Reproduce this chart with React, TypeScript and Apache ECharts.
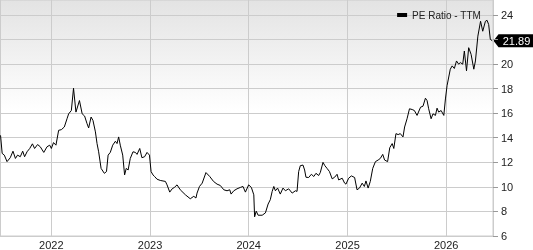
import React, { useEffect, useRef } from "react";
import * as echarts from "echarts";

const dates: string[] = [
  "2021-06-27","2021-07-03","2021-07-11","2021-07-21","2021-08-02","2021-08-12","2021-08-21","2021-08-29",
  "2021-09-08","2021-09-17","2021-09-24","2021-10-03","2021-10-13","2021-10-23","2021-10-31","2021-11-11",
  "2021-11-21","2021-12-04","2021-12-16","2021-12-26","2022-01-01","2022-01-09","2022-01-18","2022-01-28",
  "2022-02-07","2022-02-18","2022-02-28","2022-03-06","2022-03-16","2022-03-24","2022-04-02","2022-04-15",
  "2022-04-25","2022-05-04","2022-05-13","2022-05-19","2022-05-28","2022-06-04","2022-06-13","2022-06-19",
  "2022-06-25","2022-07-04","2022-07-16","2022-07-24","2022-07-30","2022-08-07","2022-08-16","2022-08-26",
  "2022-09-01","2022-09-07","2022-09-13","2022-09-22","2022-09-29","2022-10-05","2022-10-12","2022-10-20",
  "2022-10-30","2022-11-08","2022-11-14","2022-11-24","2022-12-02","2022-12-12","2022-12-21","2022-12-30",
  "2023-01-05","2023-01-12","2023-01-18","2023-01-27","2023-02-08","2023-02-27","2023-03-05","2023-03-15",
  "2023-03-24","2023-04-01","2023-04-11","2023-04-23","2023-05-12","2023-05-30","2023-06-12","2023-06-20",
  "2023-06-24","2023-07-03","2023-07-13","2023-07-27","2023-08-10","2023-08-24","2023-09-06","2023-09-18",
  "2023-10-01","2023-10-13","2023-10-23","2023-10-28","2023-11-07","2023-11-19","2023-12-01","2023-12-11",
  "2023-12-20","2024-01-01","2024-01-11","2024-01-20","2024-01-23","2024-01-29","2024-02-05","2024-02-20",
  "2024-03-03","2024-03-13","2024-03-21","2024-03-28","2024-04-03","2024-04-09","2024-04-17","2024-04-27",
  "2024-05-07","2024-05-16","2024-05-28","2024-06-10","2024-06-22","2024-06-28","2024-07-04","2024-07-10",
  "2024-07-20","2024-07-26","2024-07-31","2024-08-10","2024-08-20","2024-08-29","2024-09-06","2024-09-16",
  "2024-09-22","2024-10-02","2024-10-09","2024-10-17","2024-10-26","2024-11-05","2024-11-14","2024-11-23",
  "2024-11-29","2024-12-12","2024-12-21","2024-12-26","2025-01-05","2025-01-15","2025-01-27","2025-02-05",
  "2025-02-14","2025-02-24","2025-03-04","2025-03-10","2025-03-18","2025-03-26","2025-04-04","2025-04-14",
  "2025-04-24","2025-05-02","2025-05-11","2025-05-18","2025-05-29","2025-06-06","2025-06-15","2025-06-21",
  "2025-06-29","2025-07-07","2025-07-15","2025-07-25","2025-07-31","2025-08-09","2025-08-18","2025-08-28",
  "2025-09-05","2025-09-15","2025-09-28","2025-10-07","2025-10-16","2025-10-22","2025-10-28","2025-11-06",
  "2025-11-13","2025-11-22","2025-11-28","2025-12-04","2025-12-13","2025-12-23","2025-12-29","2026-01-04",
  "2026-01-16","2026-01-23","2026-01-31","2026-02-08","2026-02-16","2026-02-22","2026-03-03","2026-03-09",
  "2026-03-17","2026-03-25","2026-04-03","2026-04-13","2026-04-19","2026-04-28","2026-05-08","2026-05-16",
  "2026-05-26","2026-06-01","2026-06-07","2026-06-13","2026-06-20"
];

const peValues: number[] = [
  14.19,12.72,12.58,12.05,12.37,12.9,12.31,12.58,
  12.45,12.9,12.45,12.85,13.12,13.5,13.12,13.44,
  13.26,12.8,13.26,13.39,13.12,13.6,13.39,14.6,
  14.65,14.87,15.54,15.94,16.21,18.02,16.08,17.02,
  15.94,15.76,15.14,14.79,15.68,15.4,14.47,13.52,
  12.85,11.5,11.1,11.24,12.58,12.8,13.39,13.71,
  13.52,14.06,13.39,12.58,10.97,11.5,11.37,12.31,
  12.85,12.8,12.64,13.12,12.37,12.45,12.8,12.58,
  11.24,10.97,10.84,10.62,10.52,10.44,10.16,9.57,
  9.84,9.95,10.16,9.76,9.35,9.03,9.23,9.09,
  9.49,10.03,10.3,11.16,10.84,10.44,10.22,10.11,
  9.76,9.68,9.76,9.41,9.68,9.84,9.95,10.03,
  9.57,10.16,9.95,9.35,7.56,8.02,7.69,7.69,
  7.88,8.6,8.95,9.63,10.03,9.68,9.9,9.41,
  9.9,9.68,9.84,9.49,9.68,9.63,11.24,11.72,
  11.77,11.37,10.78,10.76,11.02,10.84,11.1,10.92,
  11.16,11.99,11.72,11.5,11.24,10.65,10.78,11.02,
  10.56,10.7,10.3,10.22,10.7,10.89,10.76,9.76,
  9.9,10.3,10.03,10.48,9.9,10.44,11.5,12.05,
  12.18,12.31,12.64,12.18,12.05,13.18,13.52,13.12,
  14.33,14.25,14.33,14.06,14.87,15.54,16.35,16.29,
  16.21,15.81,16.48,16.56,17.21,17.02,16.35,15.54,
  15.94,15.81,16.4,16.08,16.21,15.81,17.15,18.23,
  19.57,19.84,19.63,20.24,19.98,20.11,19.98,21.05,
  19.44,21.32,20.78,19.57,20.24,22.26,23.47,22.66,
  23.47,23.55,23.2,22.0,21.89
];

const yTicks: number[] = [6, 8, 10, 12, 14, 16, 18, 20, 22, 24];
// the 22 label sits under the last-value flag in the reference
const yLabels: number[] = [6, 8, 10, 12, 14, 16, 18, 20, 24];
const seriesName = "PE Ratio - TTM";
const xMin = "2021-06-25";
const xMax = "2026-06-23";
const yMin = 6;
const yMax = 25.2;

const FONT = "'Liberation Sans', Arial, Helvetica, sans-serif";
const YEAR_MS = 365 * 24 * 3600 * 1000;

export default function App() {
  const ref = useRef<HTMLDivElement>(null);
  useEffect(() => {
    if (!ref.current) return;
    const chart = echarts.init(ref.current, null, { renderer: "svg" });
    const toTime = (s: string) => {
      const [y, m, d] = s.split("-").map(Number);
      return new Date(y, m - 1, d).getTime();
    };
    const data = dates.map((d, i) => [toTime(d), peValues[i]]);
    chart.setOption({
      animation: false,
      textStyle: { fontFamily: FONT },
      grid: {
        left: 0,
        top: 0,
        right: 40,
        bottom: 12,
        show: true,
        borderColor: "#cccccc",
        borderWidth: 1,
        backgroundColor: new echarts.graphic.LinearGradient(0, 0, 0, 1, [
          { offset: 0, color: "#e3e3e3" },
          { offset: 0.47, color: "#ffffff" },
          { offset: 1, color: "#ffffff" },
        ]),
      },
      legend: {
        show: true,
        right: 47,
        top: 5,
        itemWidth: 10,
        itemHeight: 4,
        itemGap: 5,
        data: [{ name: seriesName, icon: "rect" }],
        textStyle: { fontSize: 10, color: "#222", fontFamily: FONT },
      },
      xAxis: {
        type: "time",
        min: toTime(xMin),
        max: toTime(xMax),
        minInterval: YEAR_MS,
        maxInterval: YEAR_MS + 2 * 24 * 3600 * 1000,
        axisLine: { show: true, lineStyle: { color: "#cccccc" } },
        axisTick: { show: false },
        axisLabel: {
          formatter: (v: number) => String(new Date(v).getFullYear()),
          color: "#222",
          fontSize: 11,
          margin: 3,
          fontFamily: FONT,
          showMinLabel: false,
          showMaxLabel: false,
        },
        splitLine: { show: true, lineStyle: { color: "#cccccc", width: 1 } },
      },
      yAxis: {
        type: "value",
        position: "right",
        min: yMin,
        max: yMax,
        axisLine: { show: true, lineStyle: { color: "#cccccc" } },
        axisTick: { show: true, length: 5, customValues: yTicks, lineStyle: { color: "#999999" } },
        axisLabel: {
          customValues: yLabels,
          color: "#222",
          fontSize: 11,
          margin: 8,
          fontFamily: FONT,
        },
        splitLine: { show: true, lineStyle: { color: "#cccccc", width: 1 } },
      },
      series: [
        {
          name: seriesName,
          type: "line",
          data,
          showSymbol: false,
          symbol: "none",
          color: "#000000",
          lineStyle: { color: "#000000", width: 1 },
        },
      ],
    });
    const last = data[data.length - 1];
    const pt = chart.convertToPixel({ gridIndex: 0 }, last as any) as number[];
    const axisX = chart.convertToPixel({ gridIndex: 0 }, [toTime(xMax), yMin] as any) as number[];
    if (pt && axisX) {
      chart.setOption({
        graphic: [
          {
            type: "group",
            x: axisX[0] + 0.5,
            y: pt[1],
            children: [
              {
                type: "polygon",
                shape: { points: [[0, 0], [5, -6.5], [41, -6.5], [41, 6.5], [5, 6.5]] },
                style: { fill: "#000000" },
              },
              {
                type: "text",
                x: 23,
                y: 0,
                style: {
                  text: peValues[peValues.length - 1].toFixed(2),
                  fill: "#ffffff",
                  fontSize: 11,
                  fontFamily: FONT,
                  align: "center",
                  verticalAlign: "middle",
                },
              },
            ],
          },
        ],
      });
    }
    return () => chart.dispose();
  }, []);
  return (
    <div
      ref={ref}
      style={{ position: "fixed", left: 0, top: 0, width: 533, height: 250 }}
    />
  );
}
